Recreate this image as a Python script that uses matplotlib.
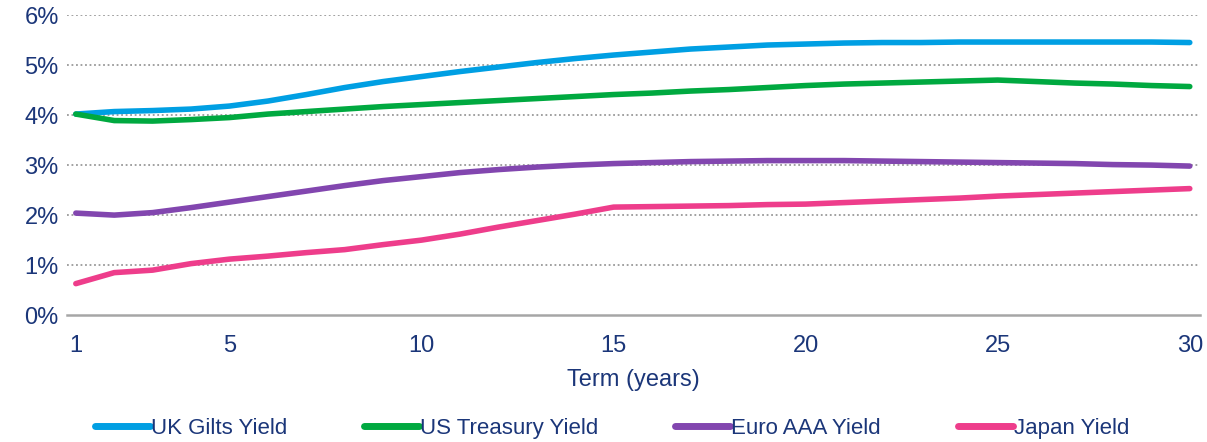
import matplotlib
matplotlib.use("Agg")
import matplotlib.pyplot as plt
from matplotlib.ticker import FuncFormatter

terms = list(range(1, 31))
uk_gilts = [4.02, 4.07, 4.09, 4.12, 4.18, 4.28, 4.41, 4.55, 4.67, 4.77,
            4.87, 4.96, 5.05, 5.13, 5.20, 5.26, 5.32, 5.36, 5.40, 5.42,
            5.44, 5.45, 5.45, 5.46, 5.46, 5.46, 5.46, 5.46, 5.46, 5.45]
us_treasury = [4.02, 3.89, 3.88, 3.91, 3.95, 4.02, 4.07, 4.12, 4.17, 4.21,
               4.25, 4.29, 4.33, 4.37, 4.41, 4.44, 4.48, 4.51, 4.55, 4.59,
               4.62, 4.64, 4.66, 4.68, 4.70, 4.67, 4.64, 4.62, 4.59, 4.57]
euro_aaa = [2.04, 2.00, 2.05, 2.15, 2.26, 2.37, 2.48, 2.59, 2.69, 2.77,
            2.85, 2.91, 2.96, 3.00, 3.03, 3.05, 3.07, 3.08, 3.09, 3.09,
            3.09, 3.08, 3.07, 3.06, 3.05, 3.04, 3.03, 3.01, 3.00, 2.98]
japan = [0.63, 0.85, 0.90, 1.03, 1.12, 1.18, 1.25, 1.31, 1.41, 1.50,
         1.62, 1.76, 1.89, 2.02, 2.16, 2.17, 2.18, 2.19, 2.21, 2.22,
         2.25, 2.28, 2.31, 2.34, 2.38, 2.41, 2.44, 2.47, 2.50, 2.53]
x_ticks = [1, 5, 10, 15, 20, 25, 30]
y_ticks = [0, 1, 2, 3, 4, 5, 6]
series_names = ["UK Gilts Yield", "US Treasury Yield", "Euro AAA Yield", "Japan Yield"]

colors = ["#009FE3", "#00A940", "#8246AF", "#EE3D8B"]
text_color = "#1B3679"
fs = 17

plt.rcParams['font.family'] = ['Liberation Sans', 'DejaVu Sans']

fig = plt.figure(figsize=(12.07, 4.42), dpi=100)
ax = fig.add_axes([0.0555, 0.287, 0.9385, 0.679])

for vals, name, c in zip([uk_gilts, us_treasury, euro_aaa, japan], series_names, colors):
    ax.plot(terms, vals, color=c, lw=4.0, label=name, solid_capstyle='round',
            solid_joinstyle='round')

ax.set_xlim(0.77, 30.26)
ax.set_ylim(0, 6)
ax.set_xticks(x_ticks)
ax.set_yticks(y_ticks)
ax.yaxis.set_major_formatter(FuncFormatter(lambda v, p: f"{v:.0f}%"))
ax.tick_params(axis='both', length=0, labelsize=fs, colors=text_color)
ax.tick_params(axis='x', pad=14)
ax.tick_params(axis='y', pad=6)

for y in y_ticks[1:]:
    ax.axhline(y, color="#9A9A9A", lw=1.3, ls=(0, (1, 1.5)), zorder=0)

for s in ['top', 'right', 'left']:
    ax.spines[s].set_visible(False)
ax.spines['bottom'].set_color("#A6A6A6")
ax.spines['bottom'].set_linewidth(1.8)

ax.set_xlabel("Term (years)", fontsize=fs, color=text_color, labelpad=9)

leg = fig.legend(loc='center', bbox_to_anchor=(0.507, 0.03), ncol=4, frameon=False,
                 fontsize=16, handlelength=2.48, handletextpad=0.05, columnspacing=3.45)
for t in leg.get_texts():
    t.set_color(text_color)
for h in leg.get_lines():
    h.set_linewidth(5)

fig.savefig("out.png", dpi=100)
